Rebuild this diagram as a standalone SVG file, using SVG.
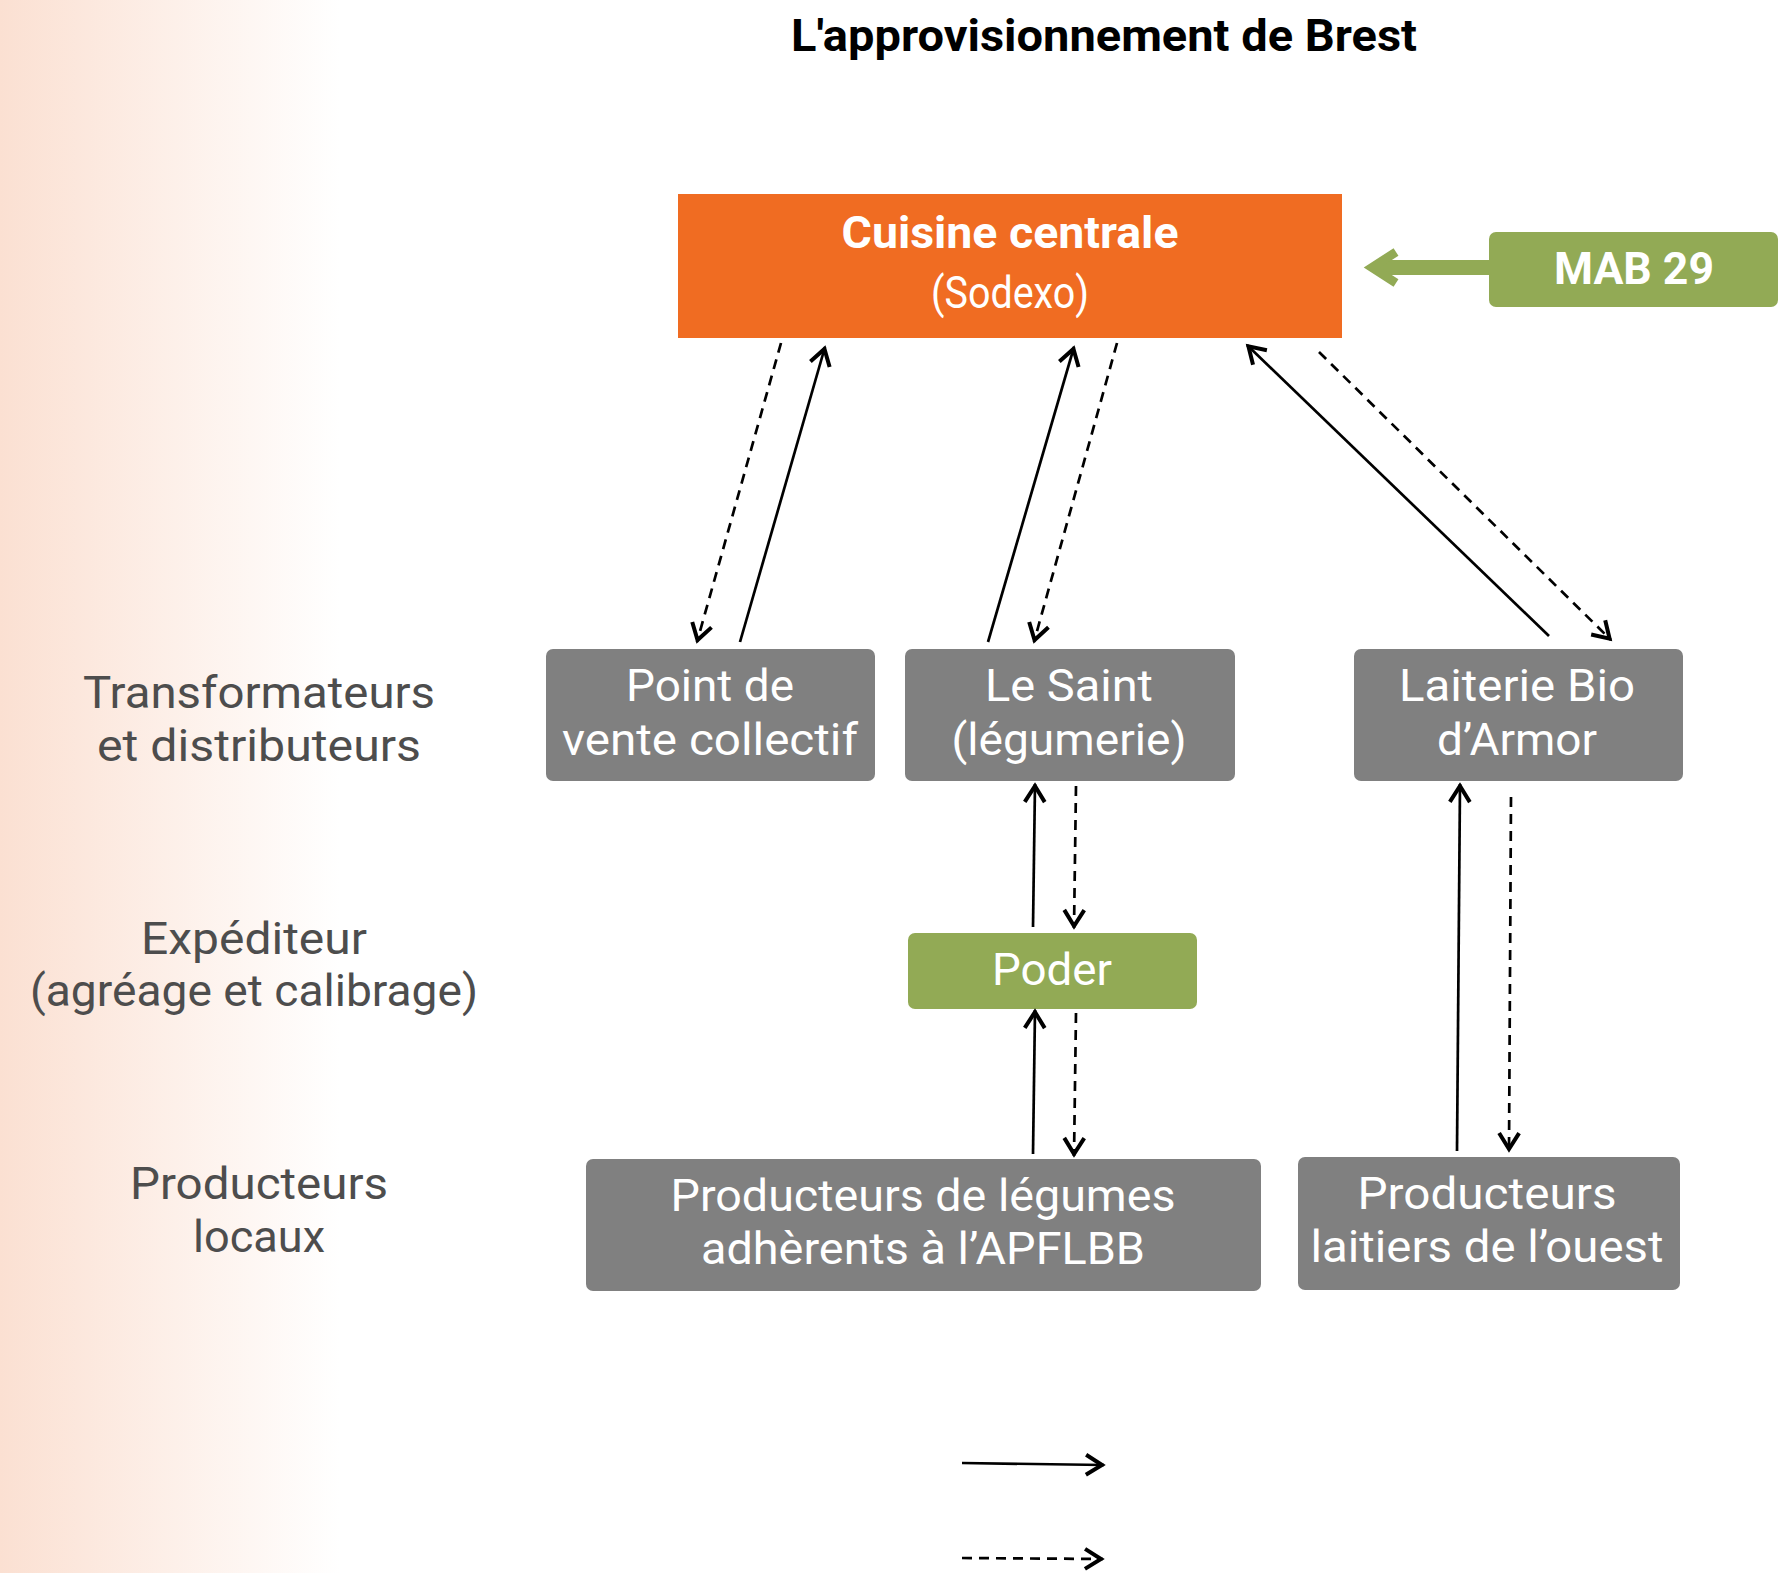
<svg xmlns="http://www.w3.org/2000/svg" width="1791" height="1573" viewBox="0 0 1791 1573">
<defs>
<linearGradient id="bg" x1="0" y1="0" x2="1" y2="0">
<stop offset="0" stop-color="#FBE0D2"/>
<stop offset="1" stop-color="#FFFFFF"/>
</linearGradient>
<marker id="ah" viewBox="0 0 26 26" refX="21" refY="13" markerWidth="26" markerHeight="26" markerUnits="userSpaceOnUse" orient="auto">
<path d="M3,3 L19,13 L3,23" fill="none" stroke="#000" stroke-width="4" stroke-linecap="butt" stroke-linejoin="miter"/>
</marker>
<style>
.t{font-family:Roboto,"Liberation Sans",sans-serif;font-size:44px;text-anchor:middle}
.w{fill:#FFFFFF}
.lab{fill:#4D4D4D}
.b{font-weight:bold}
.box{fill:#808080}
.grn{fill:#92AA55}
.s{fill:none;stroke:#000;stroke-width:2.7;marker-end:url(#ah)}
.d{fill:none;stroke:#000;stroke-width:2.7;stroke-dasharray:10 7;marker-end:url(#ah)}
</style>
</defs>
<rect x="0" y="0" width="340" height="1573" fill="url(#bg)"/>
<text class="t b" x="1104" y="51" font-size="45" textLength="626" lengthAdjust="spacingAndGlyphs">L'approvisionnement de Brest</text>

<g id="lbl-transformateurs">
<text class="t lab" x="259" y="708" textLength="352" lengthAdjust="spacingAndGlyphs">Transformateurs</text>
<text class="t lab" x="259" y="761" textLength="324" lengthAdjust="spacingAndGlyphs">et distributeurs</text>
</g>
<g id="lbl-expediteur">
<text class="t lab" x="254" y="954" textLength="226" lengthAdjust="spacingAndGlyphs">Expéditeur</text>
<text class="t lab" x="254" y="1006" textLength="448" lengthAdjust="spacingAndGlyphs">(agréage et calibrage)</text>
</g>
<g id="lbl-producteurs">
<text class="t lab" x="259" y="1199" textLength="258" lengthAdjust="spacingAndGlyphs">Producteurs</text>
<text class="t lab" x="259" y="1252" textLength="132" lengthAdjust="spacingAndGlyphs">locaux</text>
</g>

<g id="cuisine">
<rect x="678" y="194" width="664" height="144" fill="#F06C22"/>
<text class="t w b" x="1010" y="248" font-size="46" textLength="337" lengthAdjust="spacingAndGlyphs">Cuisine centrale</text>
<text class="t w" x="1010" y="308" font-size="38" textLength="158" lengthAdjust="spacingAndGlyphs">(Sodexo)</text>
</g>
<g id="mab29">
<rect class="grn" x="1489" y="232" width="289" height="75" rx="7"/>
<text class="t w b" x="1634" y="284" textLength="160" lengthAdjust="spacingAndGlyphs">MAB 29</text>
</g>
<g id="point-vente">
<rect class="box" x="546" y="649" width="329" height="132" rx="7"/>
<text class="t w" x="710" y="701" textLength="168" lengthAdjust="spacingAndGlyphs">Point de</text>
<text class="t w" x="710" y="755" textLength="296" lengthAdjust="spacingAndGlyphs">vente collectif</text>
</g>
<g id="le-saint">
<rect class="box" x="905" y="649" width="330" height="132" rx="7"/>
<text class="t w" x="1069" y="701" textLength="168" lengthAdjust="spacingAndGlyphs">Le Saint</text>
<text class="t w" x="1069" y="755" textLength="235" lengthAdjust="spacingAndGlyphs">(légumerie)</text>
</g>
<g id="laiterie">
<rect class="box" x="1354" y="649" width="329" height="132" rx="7"/>
<text class="t w" x="1517" y="701" textLength="236" lengthAdjust="spacingAndGlyphs">Laiterie Bio</text>
<text class="t w" x="1517" y="755" textLength="160" lengthAdjust="spacingAndGlyphs">d’Armor</text>
</g>
<g id="poder">
<rect class="grn" x="908" y="933" width="289" height="76" rx="7"/>
<text class="t w" x="1052" y="985" textLength="120" lengthAdjust="spacingAndGlyphs">Poder</text>
</g>
<g id="prod-legumes">
<rect class="box" x="586" y="1159" width="675" height="132" rx="7"/>
<text class="t w" x="923" y="1211" textLength="505" lengthAdjust="spacingAndGlyphs">Producteurs de légumes</text>
<text class="t w" x="923" y="1264" textLength="444" lengthAdjust="spacingAndGlyphs">adhèrents à l’APFLBB</text>
</g>
<g id="prod-laitiers">
<rect class="box" x="1298" y="1157" width="382" height="133" rx="7"/>
<text class="t w" x="1487" y="1209" textLength="259" lengthAdjust="spacingAndGlyphs">Producteurs</text>
<text class="t w" x="1487" y="1262" textLength="353" lengthAdjust="spacingAndGlyphs">laitiers de l’ouest</text>
</g>

<g id="connectors">
<line x1="1492" y1="267.5" x2="1380" y2="267.5" stroke="#92AA55" stroke-width="15"/>
<path d="M1396,252 L1372,267.5 L1396,283" fill="none" stroke="#92AA55" stroke-width="9" stroke-linejoin="miter"/>
<line class="d" x1="781" y1="343" x2="697" y2="642"/>
<line class="s" x1="740" y1="642" x2="825" y2="347"/>
<line class="s" x1="988" y1="642" x2="1074" y2="347"/>
<line class="d" x1="1117" y1="343" x2="1034" y2="642"/>
<line class="s" x1="1549" y1="636" x2="1247" y2="345"/>
<line class="d" x1="1319" y1="352" x2="1611" y2="640"/>
<line class="s" x1="1033" y1="927" x2="1035" y2="784"/>
<line class="d" x1="1076" y1="786" x2="1074" y2="928"/>
<line class="s" x1="1033" y1="1154" x2="1035" y2="1010"/>
<line class="d" x1="1076" y1="1013" x2="1074" y2="1156"/>
<line class="s" x1="1457" y1="1151" x2="1460" y2="784"/>
<line class="d" x1="1511" y1="797" x2="1509" y2="1151"/>
<line class="s" x1="962" y1="1463" x2="1104" y2="1465"/>
<line class="d" x1="962" y1="1558" x2="1103" y2="1559"/>
</g>
</svg>
